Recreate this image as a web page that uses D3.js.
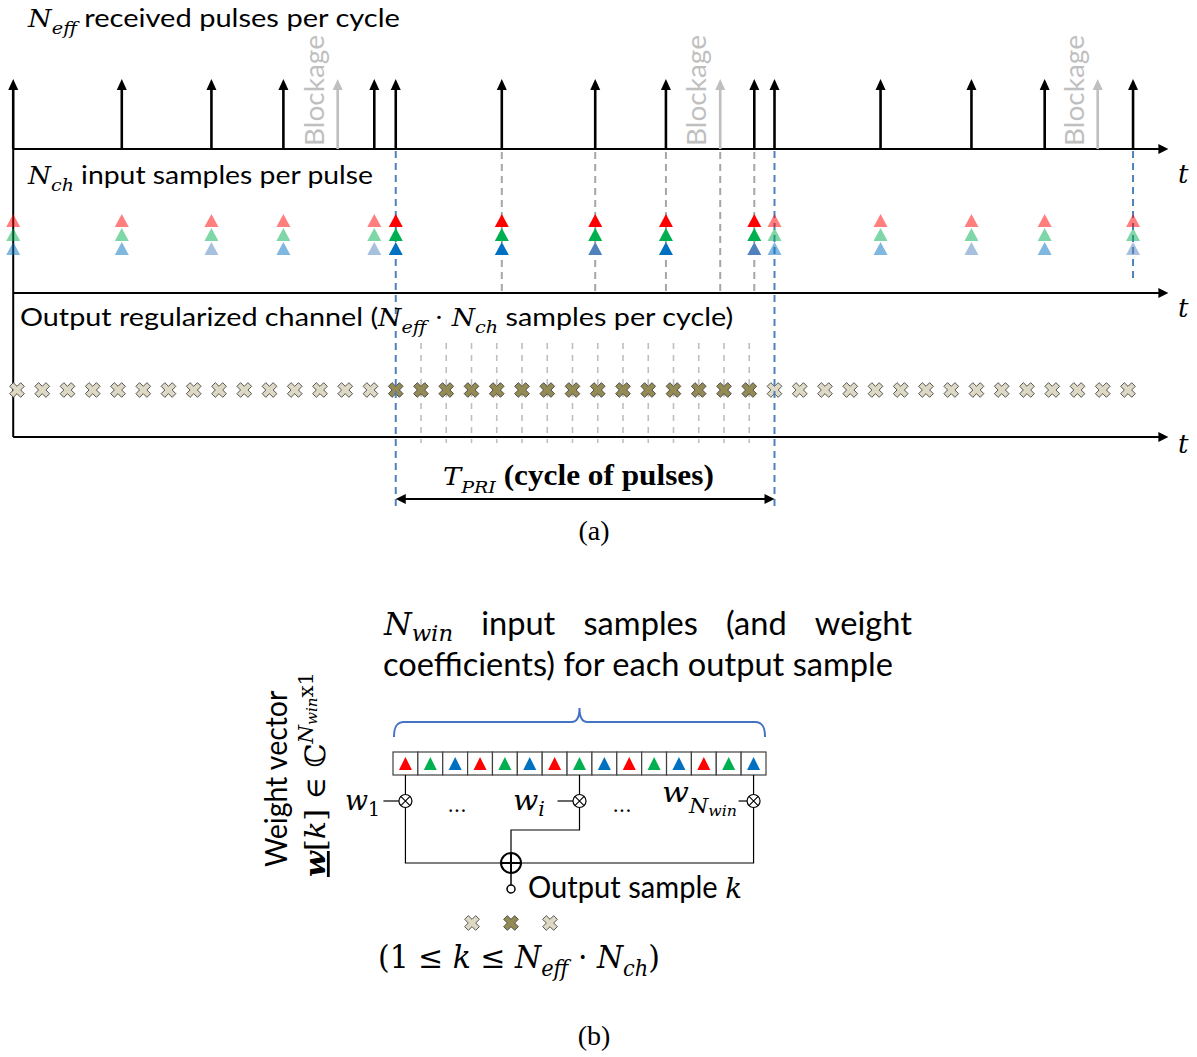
<!DOCTYPE html>
<html><head><meta charset="utf-8">
<script src="https://cdn.jsdelivr.net/npm/d3@7"></script>
<style>body{margin:0;background:#fff} text{white-space:pre}</style>
</head><body><svg id="c" width="1197" height="1057"></svg>
<script>
// ---------------- data ----------------
const pulseTimes    = [-0.15, 4.15, 7.7, 10.55, 14.15, 15, 19.2, 22.9, 25.7, 29.2, 30, 34.2, 37.8, 40.7, 44.2];
const pulseBlueTone = [0, 0, 1, 0, 1, 0, 0, 1, 0, 1, 0, 0, 1, 0, 1];
const blockageTimes = [12.7, 27.85, 42.8];
const outputSamples = [0,1,2,3,4,5,6,7,8,9,10,11,12,13,14,15,16,17,18,19,20,21,22,23,24,25,26,27,28,29,30,31,32,33,34,35,36,37,38,39,40,41,42,43,44];
const cycleBounds   = [15, 30];
const channels      = ['R', 'G', 'B'];
const windowChannels = ['R','G','B','R','G','B','R','G','B','R','G','B','R','G','B'];
const tapCells      = [0, 7, 14];
const tapLabels     = ['1', 'i', 'win'];
const exampleOutputs = [-1, 0, 1];

// ---------------- styles ----------------
const chanColor = {R: '#ff0000', G: '#00b050', B: '#0070c0'};
const altBlue = '#4f81bd';
const FONTS = {
  sans: {family: "Lato, 'Open Sans', sans-serif", style: 'normal', weight: 400},
  mi:   {family: "'DejaVu Serif', serif", style: 'italic', weight: 400},
  mr:   {family: "'DejaVu Serif', serif", style: 'normal', weight: 400},
  mbi:  {family: "'DejaVu Serif', serif", style: 'italic', weight: 700},
  tr:   {family: "'Liberation Serif', 'Times New Roman', serif", style: 'normal', weight: 400},
  tb:   {family: "'Liberation Serif', 'Times New Roman', serif", style: 'normal', weight: 700}
};

const svg = d3.select('#c');
const x = d3.scaleLinear().domain([0, 44]).range([17, 1128]);
const tStart = pulseTimes[0], tEnd = 45.6;
const rowY = [149, 293, 437];
const chanY = d3.scaleBand().domain(channels).range([214, 256]);

function rich(parent, parts, base, fill) {
  const t = parent.append('text').attr('x', 0).attr('y', 0).attr('fill', fill || '#000');
  let cur = 0;
  parts.forEach(p => {
    const f = FONTS[p.f || 'sans'];
    const sh = (p.sh || 0) * base;
    const ts = t.append('tspan').text(p.t)
      .attr('font-family', f.family).attr('font-style', f.style).attr('font-weight', f.weight)
      .attr('font-size', (p.s || 1) * base).attr('dy', sh - cur);
    if (p.u) ts.attr('text-decoration', 'underline');
    cur = sh;
  });
  return t;
}
function placeFit(parts, base, x0, x1, y, fill) {
  const g = svg.append('g');
  const t = rich(g, parts, base, fill);
  const bb = t.node().getBBox();
  const sx = (x1 - x0) / bb.width;
  g.attr('transform', `translate(${x0},${y}) scale(${sx},1) translate(${-bb.x},0)`);
  return sx;
}
function makeScaled(parts, base, sx, fill) {
  const g = svg.append('g');
  const t = rich(g, parts, base, fill);
  const bb = t.node().getBBox();
  return {g, w: bb.width * sx, place: (x0, y) => g.attr('transform', `translate(${x0},${y}) scale(${sx},1) translate(${-bb.x},0)`)};
}
function placeFitV(parts, base, xb, y0, y1, fill) {
  const g = svg.append('g');
  const t = rich(g, parts, base, fill);
  const bb = t.node().getBBox();
  const sx = (y0 - y1) / bb.width;
  g.attr('transform', `translate(${xb},${y0}) rotate(-90) scale(${sx},1) translate(${-bb.x},0)`);
}
function arrowUp(g, cx, yBase, yTip, color) {
  g.append('line').attr('x1', cx).attr('x2', cx).attr('y1', yBase).attr('y2', yTip + 9)
    .attr('stroke', color).attr('stroke-width', 2.6);
  g.append('path').attr('d', `M${cx - 5},${yTip + 11}L${cx},${yTip}L${cx + 5},${yTip + 11}Z`).attr('fill', color);
}
const crossSym = d3.symbol().type(d3.symbolCross).size(135);
function cross(g, cx, cy, fill) {
  g.append('path').attr('d', crossSym()).attr('transform', `translate(${cx},${cy}) rotate(45)`)
    .attr('fill', fill).attr('stroke', '#3a3a3a').attr('stroke-width', 0.8);
}
const inCycle = t => t >= cycleBounds[0] && t < cycleBounds[1];

// ---------------- panel (a) ----------------
const gA = svg.append('g');
outputSamples.filter(t => t > cycleBounds[0] && t < cycleBounds[1]).forEach(t => {
  gA.append('line').attr('x1', x(t)).attr('x2', x(t)).attr('y1', 343).attr('y2', 443)
    .attr('stroke', '#bfbfbf').attr('stroke-width', 1.6).attr('stroke-dasharray', '6,6');
});
pulseTimes.filter(t => t > cycleBounds[0] && t < cycleBounds[1]).concat(blockageTimes.filter(inCycle)).forEach(t => {
  gA.append('line').attr('x1', x(t)).attr('x2', x(t)).attr('y1', 152).attr('y2', rowY[1])
    .attr('stroke', '#a6a6a6').attr('stroke-width', 2).attr('stroke-dasharray', '7,5');
});
rowY.forEach(y => {
  gA.append('line').attr('x1', x(tStart)).attr('x2', x(tEnd) - 8).attr('y1', y).attr('y2', y)
    .attr('stroke', '#000').attr('stroke-width', 2);
  gA.append('path').attr('d', `M${x(tEnd) - 10},${y - 5}L${x(tEnd)},${y}L${x(tEnd) - 10},${y + 5}Z`).attr('fill', '#000');
});
gA.append('line').attr('x1', x(tStart)).attr('x2', x(tStart)).attr('y1', rowY[0]).attr('y2', rowY[2])
  .attr('stroke', '#000').attr('stroke-width', 2);
pulseTimes.forEach(t => arrowUp(gA, x(t), rowY[0], 79, '#000'));
blockageTimes.forEach(t => {
  arrowUp(gA, x(t), rowY[0], 79, '#bfbfbf');
  placeFitV([{t: 'Blockage', f: 'sans'}], 27, x(t) - 14, 146, 35, '#bfbfbf');
});
outputSamples.forEach(t => cross(gA, x(t), 390, inCycle(t) ? '#948a54' : '#ddd9c4'));
cycleBounds.forEach(t => {
  gA.append('line').attr('x1', x(t)).attr('x2', x(t)).attr('y1', 151).attr('y2', 509)
    .attr('stroke', '#4f81bd').attr('stroke-width', 2).attr('stroke-dasharray', '7,5');
});
{
  const tl = pulseTimes[pulseTimes.length - 1];
  gA.append('line').attr('x1', x(tl)).attr('x2', x(tl)).attr('y1', 151).attr('y2', 281)
    .attr('stroke', '#4f81bd').attr('stroke-width', 2).attr('stroke-dasharray', '7,5');
}
pulseTimes.forEach((t, i) => {
  channels.forEach(c => {
    const top = chanY(c), cx = x(t);
    const col = (c === 'B' && pulseBlueTone[i]) ? altBlue : chanColor[c];
    gA.append('path').attr('d', `M${cx - 7},${top + 13}L${cx},${top}L${cx + 7},${top + 13}Z`)
      .attr('fill', col).attr('fill-opacity', inCycle(t) ? 1 : 0.5);
  });
});
{
  const x0 = x(cycleBounds[0]), x1 = x(cycleBounds[1]), y = 499;
  gA.append('line').attr('x1', x0 + 8).attr('x2', x1 - 8).attr('y1', y).attr('y2', y).attr('stroke', '#000').attr('stroke-width', 2);
  gA.append('path').attr('d', `M${x0 + 10},${y - 5}L${x0},${y}L${x0 + 10},${y + 5}Z`).attr('fill', '#000');
  gA.append('path').attr('d', `M${x1 - 10},${y - 5}L${x1},${y}L${x1 - 10},${y + 5}Z`).attr('fill', '#000');
}
placeFit([{t: 'N', f: 'mi'}, {t: 'eff', f: 'mi', s: 0.72, sh: 0.3}, {t: ' received pulses per cycle', f: 'sans', s: 1.08}], 24, 27, 400, 27);
placeFit([{t: 'N', f: 'mi'}, {t: 'ch', f: 'mi', s: 0.72, sh: 0.3}, {t: ' input samples per pulse', f: 'sans', s: 1.08}], 24, 27, 373, 184);
placeFit([{t: 'Output regularized channel (', f: 'sans', s: 1.08}, {t: 'N', f: 'mi'}, {t: 'eff', f: 'mi', s: 0.72, sh: 0.3},
          {t: ' · ', f: 'mr'}, {t: 'N', f: 'mi'}, {t: 'ch', f: 'mi', s: 0.72, sh: 0.3}, {t: ' samples per cycle)', f: 'sans', s: 1.08}], 24, 20, 733, 326);
[183, 317, 453].forEach(y => {
  svg.append('text').attr('x', 1178).attr('y', y).text('t')
    .attr('font-family', FONTS.mi.family).attr('font-style', 'italic').attr('font-size', 26);
});
placeFit([{t: 'T', f: 'mi'}, {t: 'PRI', f: 'mi', s: 0.7, sh: 0.3}, {t: ' (cycle of pulses)', f: 'tb', s: 1.15}], 25, 443, 714, 485);
svg.append('text').attr('x', 594).attr('y', 540).attr('text-anchor', 'middle').text('(a)')
  .attr('font-family', FONTS.tr.family).attr('font-size', 28);

// ---------------- panel (b) ----------------
const gB = svg.append('g');
const cell = d3.scaleBand().domain(d3.range(windowChannels.length)).range([393, 766]);
const cellTop = 752, cellH = 23;
const bw = cell.bandwidth();
{
  const l = cell.range()[0] + 1, r = cell.range()[1] - 1, m = (l + r) / 2, yb = 722;
  gB.append('path').attr('d',
    `M${l},737C${l},728 ${l + 2},${yb} ${l + 10},${yb}L${m - 8},${yb}C${m - 3},${yb} ${m},${yb - 5} ${m},${yb - 14}` +
    `C${m},${yb - 5} ${m + 3},${yb} ${m + 8},${yb}L${r - 10},${yb}C${r - 2},${yb} ${r},728 ${r},737`)
    .attr('fill', 'none').attr('stroke', '#4472c4').attr('stroke-width', 2);
}
windowChannels.forEach((c, i) => {
  const cx = cell(i) + bw / 2;
  gB.append('rect').attr('x', cell(i)).attr('y', cellTop).attr('width', bw).attr('height', cellH)
    .attr('fill', '#fff').attr('stroke', '#404040').attr('stroke-width', 1.2);
  gB.append('path').attr('d', `M${cx - 6.5},${cellTop + 18}L${cx},${cellTop + 5}L${cx + 6.5},${cellTop + 18}Z`)
    .attr('fill', chanColor[c]);
});
const mulY = 801, sumX = 511, sumY = 863;
tapCells.forEach((ci, k) => {
  const cx = cell(ci) + bw / 2;
  gB.append('line').attr('x1', cx).attr('x2', cx).attr('y1', cellTop + cellH).attr('y2', mulY - 6.5).attr('stroke', '#000').attr('stroke-width', 1.2);
  const stub = k === tapCells.length - 1 ? 15 : 22;
  gB.append('line').attr('x1', cx - stub).attr('x2', cx - 6.5).attr('y1', mulY).attr('y2', mulY).attr('stroke', '#000').attr('stroke-width', 1.2);
  gB.append('circle').attr('cx', cx).attr('cy', mulY).attr('r', 6.5).attr('fill', '#fff').attr('stroke', '#000').attr('stroke-width', 1.2);
  const d = 6.5 * Math.SQRT1_2;
  gB.append('path').attr('d', `M${cx - d},${mulY - d}L${cx + d},${mulY + d}M${cx - d},${mulY + d}L${cx + d},${mulY - d}`).attr('stroke', '#000').attr('stroke-width', 1.1);
  let p;
  if (k === 1) p = `M${cx},${mulY + 6.5}V830H${sumX}V${sumY - 10}`;
  else p = `M${cx},${mulY + 6.5}V${sumY}H${sumX + (cx < sumX ? -10 : 10)}`;
  gB.append('path').attr('d', p).attr('fill', 'none').attr('stroke', '#000').attr('stroke-width', 1.2);
});
gB.append('circle').attr('cx', sumX).attr('cy', sumY).attr('r', 10).attr('fill', '#fff').attr('stroke', '#000').attr('stroke-width', 2);
gB.append('path').attr('d', `M${sumX - 10},${sumY}H${sumX + 10}M${sumX},${sumY - 10}V${sumY + 10}`).attr('stroke', '#000').attr('stroke-width', 2);
gB.append('line').attr('x1', sumX).attr('x2', sumX).attr('y1', sumY + 10).attr('y2', 885).attr('stroke', '#000').attr('stroke-width', 1.5);
gB.append('circle').attr('cx', sumX).attr('cy', 889).attr('r', 4).attr('fill', '#fff').attr('stroke', '#000').attr('stroke-width', 1.5);
exampleOutputs.forEach(k => cross(gB, sumX + k * 39, 923, k === 0 ? '#948a54' : '#ddd9c4'));

// texts (b)
const sx2 = placeFit([{t: 'coefficients) for each output sample', f: 'sans'}], 33, 383, 893, 676);
{
  const words = [
    makeScaled([{t: 'N', f: 'mi'}, {t: 'win', f: 'mi', s: 0.72, sh: 0.2}], 32, sx2),
    makeScaled([{t: 'input', f: 'sans'}], 33, sx2),
    makeScaled([{t: 'samples', f: 'sans'}], 33, sx2),
    makeScaled([{t: '(and', f: 'sans'}], 33, sx2),
    makeScaled([{t: 'weight', f: 'sans'}], 33, sx2)
  ];
  const x0 = 383, x1 = 912;
  const gap = (x1 - x0 - d3.sum(words, w => w.w)) / (words.length - 1);
  let cx = x0;
  words.forEach(w => { w.place(cx, 635); cx += w.w + gap; });
}
placeFitV([{t: 'Weight vector', f: 'sans'}], 31, 287, 867, 690);
placeFitV([{t: 'w', f: 'mbi', u: true}, {t: '[', f: 'mr'}, {t: 'k', f: 'mi'}, {t: '] ∈ ℂ', f: 'mr'},
           {t: 'N', f: 'mi', s: 0.7, sh: -0.42}, {t: 'win', f: 'mi', s: 0.5, sh: -0.3}, {t: 'x1', f: 'mr', s: 0.7, sh: -0.42}],
          28, 325, 877, 672);
placeFit([{t: 'w', f: 'mi'}, {t: tapLabels[0], f: 'mr', s: 0.7, sh: 0.2}], 28, 345, 380, 810);
placeFit([{t: 'w', f: 'mi'}, {t: tapLabels[1], f: 'mi', s: 0.7, sh: 0.2}], 28, 513, 545, 810);
placeFit([{t: 'w', f: 'mi'}, {t: 'N', f: 'mi', s: 0.7, sh: 0.38}, {t: tapLabels[2], f: 'mi', s: 0.5, sh: 0.5}], 28, 662, 737, 802);
[457, 622].forEach(cx => svg.append('text').attr('x', cx).attr('y', 812).attr('text-anchor', 'middle').text('...')
  .attr('font-family', FONTS.mr.family).attr('font-size', 20));
placeFit([{t: 'Output sample ', f: 'sans'}, {t: 'k', f: 'mi', s: 0.95}], 30, 528, 742, 898);
placeFit([{t: '(1 ≤ ', f: 'mr'}, {t: 'k', f: 'mi'}, {t: ' ≤ ', f: 'mr'}, {t: 'N', f: 'mi'}, {t: 'eff', f: 'mi', s: 0.7, sh: 0.25},
          {t: ' · ', f: 'mr'}, {t: 'N', f: 'mi'}, {t: 'ch', f: 'mi', s: 0.7, sh: 0.25}, {t: ')', f: 'mr'}], 31, 378, 660, 968);
svg.append('text').attr('x', 594).attr('y', 1045).attr('text-anchor', 'middle').text('(b)')
  .attr('font-family', FONTS.tr.family).attr('font-size', 28);
</script></body></html>
